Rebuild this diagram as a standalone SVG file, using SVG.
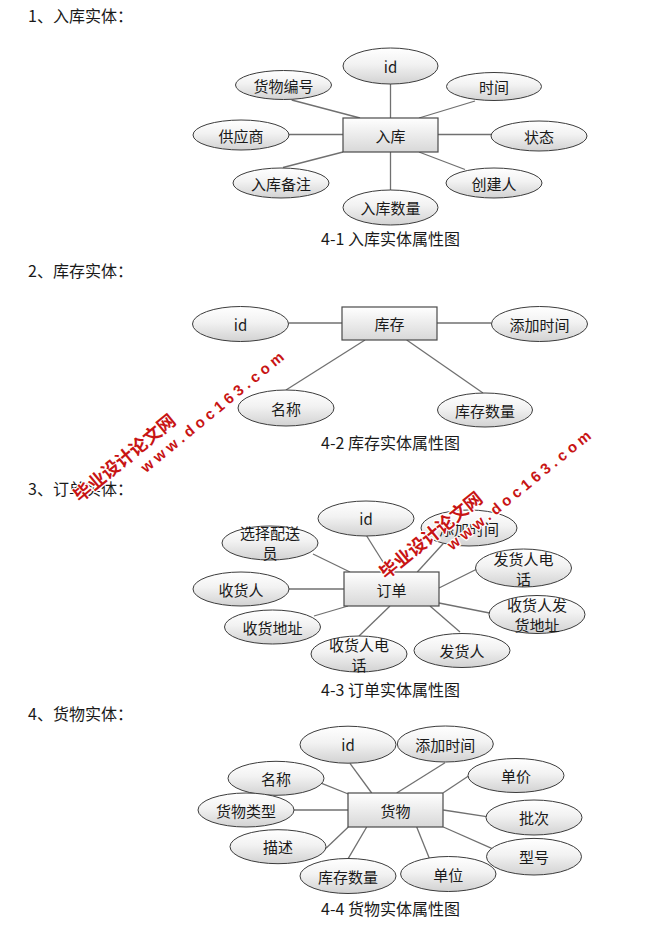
<svg xmlns="http://www.w3.org/2000/svg" width="672" height="930" viewBox="0 0 672 930">
<defs>
<linearGradient id="gEll" x1="0" y1="0" x2="0" y2="1">
<stop offset="0" stop-color="#ffffff"/>
<stop offset="0.45" stop-color="#f2f2f2"/>
<stop offset="1" stop-color="#d2d2d2"/>
</linearGradient>
<linearGradient id="gRect" x1="0" y1="0" x2="0" y2="1">
<stop offset="0" stop-color="#ffffff"/>
<stop offset="1" stop-color="#d8d8d8"/>
</linearGradient>
<style>
text{font-family:"Noto Sans CJK SC","Noto Sans",sans-serif;fill:#1a1a1a}
.t{font-size:16px}
.cap{font-size:16px;text-anchor:middle}
.lbl{font-size:15px;text-anchor:middle;dominant-baseline:central}
ellipse{fill:url(#gEll);stroke:#3c3c3c;stroke-width:1}
rect{fill:url(#gRect);stroke:#4a4a4a;stroke-width:1.2}
.c line{stroke:#707070;stroke-width:1.3}
.wm{font-weight:bold;fill:#c81414;stroke:#ffffff;stroke-width:2.5;paint-order:stroke;stroke-linejoin:round}
</style>
</defs>
<rect x="0" y="0" width="672" height="930" style="fill:#ffffff;stroke:none"/>

<!-- Section 1 -->
<text class="t" x="28" y="15" dominant-baseline="central">1、入库实体：</text>
<g class="c" id="conn1">
<line x1="291.7" y1="100" x2="360" y2="118"/>
<line x1="289" y1="134.5" x2="343" y2="134.5"/>
<line x1="283" y1="167.5" x2="343" y2="152"/>
<line x1="390.5" y1="84" x2="390.5" y2="118"/>
<line x1="419" y1="118" x2="475" y2="101"/>
<line x1="438" y1="134.5" x2="491" y2="134.5"/>
<line x1="419" y1="152" x2="465" y2="169.5"/>
<line x1="390.5" y1="152" x2="390.5" y2="190"/>
</g>
<g id="e1_rk"><rect x="343" y="118" width="95" height="34"/><text class="lbl" x="390.5" y="135">入库</text></g>
<g id="e1_id"><ellipse cx="390.5" cy="66" rx="47.5" ry="18"/><text class="lbl" x="390.5" y="66">id</text></g>
<g id="e1_hwbh"><ellipse cx="283.5" cy="85" rx="48" ry="14.5"/><text class="lbl" x="283.5" y="85">货物编号</text></g>
<g id="e1_sj"><ellipse cx="494" cy="86.5" rx="47.5" ry="14"/><text class="lbl" x="494" y="86.5">时间</text></g>
<g id="e1_gys"><ellipse cx="241" cy="135" rx="48" ry="15"/><text class="lbl" x="241" y="135">供应商</text></g>
<g id="e1_zt"><ellipse cx="539" cy="136" rx="48" ry="15"/><text class="lbl" x="539" y="136">状态</text></g>
<g id="e1_rkbz"><ellipse cx="281" cy="183" rx="48" ry="15"/><text class="lbl" x="281" y="183">入库备注</text></g>
<g id="e1_cjr"><ellipse cx="494" cy="183" rx="48" ry="15"/><text class="lbl" x="494" y="183">创建人</text></g>
<g id="e1_rksl"><ellipse cx="390.5" cy="207.5" rx="47.5" ry="17.5"/><text class="lbl" x="390.5" y="207.5">入库数量</text></g>
<text class="cap" x="390.5" y="245">4-1 入库实体属性图</text>

<!-- Section 2 -->
<text class="t" x="28" y="270" dominant-baseline="central">2、库存实体：</text>
<g class="c" id="conn2">
<line x1="288.5" y1="323" x2="342" y2="323"/>
<line x1="437" y1="323" x2="491.5" y2="323"/>
<line x1="365" y1="340" x2="286" y2="390"/>
<line x1="406.7" y1="340" x2="483" y2="393"/>
</g>
<g id="e2_kc"><rect x="342" y="307" width="95" height="33"/><text class="lbl" x="389.5" y="323.5">库存</text></g>
<g id="e2_id"><ellipse cx="240.5" cy="324" rx="48" ry="17.5"/><text class="lbl" x="240.5" y="324">id</text></g>
<g id="e2_tjsj"><ellipse cx="539.5" cy="324" rx="48" ry="17.5"/><text class="lbl" x="539.5" y="324">添加时间</text></g>
<g id="e2_mc"><ellipse cx="286" cy="408" rx="48" ry="18"/><text class="lbl" x="286" y="408">名称</text></g>
<g id="e2_kcsl"><ellipse cx="485" cy="410" rx="47.5" ry="17"/><text class="lbl" x="485" y="410">库存数量</text></g>
<text class="cap" x="390.5" y="449">4-2 库存实体属性图</text>

<!-- Section 3 -->
<text class="t" x="28" y="488" dominant-baseline="central">3、订单实体：</text>
<g class="c" id="conn3">
<line x1="366.7" y1="536" x2="389.3" y2="572"/>
<line x1="443.3" y1="543.5" x2="417.3" y2="572"/>
<line x1="313" y1="554" x2="350" y2="572"/>
<line x1="289" y1="589" x2="344" y2="589"/>
<line x1="314" y1="616" x2="348" y2="606"/>
<line x1="359" y1="636" x2="390" y2="606"/>
<line x1="430" y1="606" x2="460" y2="632"/>
<line x1="439" y1="603" x2="489.5" y2="613"/>
<line x1="439" y1="588" x2="477" y2="569"/>
</g>
<g id="e3_dd"><rect x="344" y="572" width="95" height="34"/><text class="lbl" x="391.5" y="589">订单</text></g>
<g id="e3_id"><ellipse cx="366" cy="518.5" rx="48" ry="17.5"/><text class="lbl" x="366" y="518.5">id</text></g>
<g id="e3_tjsj"><ellipse cx="469" cy="528" rx="48" ry="18"/><text class="lbl" x="469" y="528">添加时间</text></g>
<g id="e3_xzpsy"><ellipse cx="270" cy="543" rx="48" ry="17"/><text class="lbl" x="270" y="532">选择配送</text><text class="lbl" x="270" y="552">员</text></g>
<g id="e3_fhrdh"><ellipse cx="523.5" cy="568" rx="48" ry="19"/><text class="lbl" x="523.5" y="558">发货人电</text><text class="lbl" x="523.5" y="578">话</text></g>
<g id="e3_shr"><ellipse cx="241" cy="589" rx="48" ry="17"/><text class="lbl" x="241" y="589">收货人</text></g>
<g id="e3_shrfhdz"><ellipse cx="537" cy="614.5" rx="48" ry="19"/><text class="lbl" x="537" y="604">收货人发</text><text class="lbl" x="537" y="624.5">货地址</text></g>
<g id="e3_shdz"><ellipse cx="272.5" cy="627" rx="48" ry="17"/><text class="lbl" x="272.5" y="627">收货地址</text></g>
<g id="e3_shrdh"><ellipse cx="359" cy="654" rx="48" ry="18"/><text class="lbl" x="359" y="644">收货人电</text><text class="lbl" x="359" y="664">话</text></g>
<g id="e3_fhr"><ellipse cx="462" cy="650.5" rx="48" ry="17"/><text class="lbl" x="462" y="650.5">发货人</text></g>
<text class="cap" x="390.5" y="696">4-3 订单实体属性图</text>

<!-- Section 4 -->
<text class="t" x="28" y="713" dominant-baseline="central">4、货物实体：</text>
<g class="c" id="conn4">
<line x1="350" y1="763.3" x2="371.7" y2="793"/>
<line x1="445" y1="762.7" x2="396.7" y2="793"/>
<line x1="317.3" y1="781.7" x2="348.3" y2="794"/>
<line x1="294" y1="810" x2="348" y2="810"/>
<line x1="326" y1="848.3" x2="348.3" y2="827"/>
<line x1="348.3" y1="858.3" x2="366.7" y2="827"/>
<line x1="416.7" y1="827" x2="429.3" y2="858.3"/>
<line x1="443.3" y1="792.7" x2="470" y2="775"/>
<line x1="443.3" y1="810" x2="486.5" y2="816.7"/>
<line x1="443.3" y1="827" x2="491.7" y2="848.3"/>
</g>
<g id="e4_hw"><rect x="348" y="793" width="95" height="34"/><text class="lbl" x="395.5" y="810">货物</text></g>
<g id="e4_id"><ellipse cx="348" cy="744.7" rx="48" ry="18.5"/><text class="lbl" x="348" y="744.7">id</text></g>
<g id="e4_tjsj"><ellipse cx="445.3" cy="744" rx="48" ry="18"/><text class="lbl" x="445.3" y="744">添加时间</text></g>
<g id="e4_mc"><ellipse cx="276" cy="778.3" rx="48" ry="17"/><text class="lbl" x="276" y="778.3">名称</text></g>
<g id="e4_dj"><ellipse cx="516" cy="775.5" rx="48" ry="17"/><text class="lbl" x="516" y="775.5">单价</text></g>
<g id="e4_hwlx"><ellipse cx="246" cy="810" rx="48" ry="17"/><text class="lbl" x="246" y="810">货物类型</text></g>
<g id="e4_pc"><ellipse cx="534" cy="817.5" rx="48" ry="17.5"/><text class="lbl" x="534" y="817.5">批次</text></g>
<g id="e4_ms"><ellipse cx="278" cy="846.7" rx="48" ry="17"/><text class="lbl" x="278" y="846.7">描述</text></g>
<g id="e4_xh"><ellipse cx="534" cy="856.7" rx="47.5" ry="18.3"/><text class="lbl" x="534" y="856.7">型号</text></g>
<g id="e4_kcsl"><ellipse cx="348" cy="876" rx="48" ry="17.5"/><text class="lbl" x="348" y="876">库存数量</text></g>
<g id="e4_dw"><ellipse cx="448.3" cy="874" rx="47.7" ry="17.5"/><text class="lbl" x="448.3" y="874">单位</text></g>
<text class="cap" x="390.5" y="915">4-4 货物实体属性图</text>

<!-- Watermarks -->
<g id="wm1" transform="translate(80,503) rotate(-39.5)">
<text class="wm" x="0" y="0" style="font-size:18px">毕业设计论文网</text>
<text class="wm" x="70" y="19" style="font-size:15px;letter-spacing:4.2px;font-family:'Liberation Sans',sans-serif">www.doc163.com</text>
</g>
<g id="wm2" transform="translate(386,580) rotate(-39)">
<text class="wm" x="0" y="0" style="font-size:18px">毕业设计论文网</text>
<text class="wm" x="70" y="19" style="font-size:15px;letter-spacing:4.2px;font-family:'Liberation Sans',sans-serif">www.doc163.com</text>
</g>
</svg>
